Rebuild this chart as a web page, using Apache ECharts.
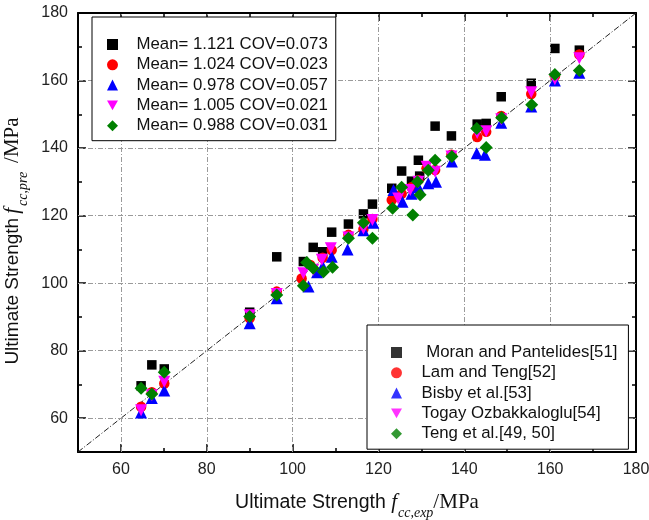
<!DOCTYPE html>
<html><head><meta charset="utf-8">
<script src="https://cdn.jsdelivr.net/npm/echarts@6/dist/echarts.min.js"></script>
<style>html,body{margin:0;padding:0;background:#fff}#c{width:649px;height:520px}</style>
</head><body><div id="c"></div>
<script>
// ---- data ----
const meanLabels = ['Mean= 1.121 COV=0.073', 'Mean= 1.024 COV=0.023', 'Mean= 0.978 COV=0.057', 'Mean= 1.005 COV=0.021', 'Mean= 0.988 COV=0.031'];
const refLabels = [' Moran and Pantelides[51]', 'Lam and Teng[52]', 'Bisby et al.[53]', 'Togay Ozbakkaloglu[54]', 'Teng et al.[49, 50]'];

const moranX = [64.7, 67.2, 70.1, 90.0, 96.3, 102.5, 104.8, 107.0, 109.1, 113.0, 116.5, 118.6, 123.1, 125.4, 127.7, 129.3, 129.6, 133.2, 137.0, 143.0, 145.1, 148.6, 155.6, 161.1, 166.8];
const moranY = [69.6, 75.8, 74.6, 91.4, 107.8, 106.4, 110.6, 109.3, 115.1, 117.5, 120.5, 123.4, 128.1, 133.2, 130.2, 136.4, 131.7, 146.5, 143.6, 147.1, 147.3, 155.2, 159.2, 169.5, 169.0];

const lamX = [64.7, 67.2, 70.1, 90.0, 96.3, 102.1, 104.1, 107.0, 109.1, 113.0, 116.5, 118.6, 123.1, 125.4, 127.7, 129.3, 131.2, 133.2, 137.0, 143.0, 145.1, 148.6, 155.6, 161.1, 166.8];
const lamY = [63.4, 67.7, 70.3, 89.6, 97.5, 101.4, 105.4, 107.5, 109.8, 114.3, 116.0, 119.0, 124.6, 126.5, 128.4, 130.5, 134.0, 133.5, 138.0, 143.3, 144.8, 149.5, 156.0, 161.3, 167.7];

const bisbyX = [64.7, 67.2, 70.1, 90.0, 96.3, 103.7, 105.7, 107.0, 109.1, 112.8, 116.5, 118.8, 123.5, 125.6, 127.7, 129.3, 131.6, 133.4, 137.1, 142.9, 144.8, 148.6, 155.6, 161.1, 166.8];
const bisbyY = [61.7, 66.0, 68.2, 88.1, 95.5, 99.0, 103.2, 105.0, 107.8, 110.0, 115.7, 117.9, 127.6, 124.1, 126.5, 128.5, 129.6, 130.0, 136.0, 138.5, 138.0, 147.5, 152.3, 160.0, 162.3];

const togayX = [64.7, 67.2, 70.1, 90.0, 96.3, 102.5, 104.8, 106.8, 108.9, 113.0, 116.5, 118.6, 124.6, 127.4, 129.3, 131.2, 133.2, 137.0, 143.0, 145.1, 148.6, 155.6, 161.1, 166.8];
const togayY = [62.4, 66.8, 70.8, 90.5, 96.8, 102.9, 104.0, 106.9, 110.3, 113.5, 116.2, 118.7, 125.1, 127.6, 130.0, 134.5, 133.0, 137.5, 144.5, 145.0, 148.5, 156.5, 160.4, 166.6];

const tengX = [64.7, 67.2, 70.1, 90.0, 96.3, 102.5, 103.3, 104.8, 107.2, 109.3, 113.0, 116.5, 118.6, 123.3, 125.4, 128.0, 129.1, 129.7, 131.6, 133.2, 137.1, 142.9, 145.1, 148.7, 155.7, 161.1, 166.8];
const tengY = [68.9, 67.2, 73.6, 90.1, 96.5, 99.2, 106.1, 104.4, 103.4, 104.7, 113.3, 117.9, 113.3, 122.2, 128.4, 120.2, 130.0, 126.2, 133.4, 136.4, 137.5, 145.8, 140.2, 149.0, 152.8, 161.8, 163.0];

const majorTicks = [60, 80, 100, 120, 140, 160, 180];
const gridValues = [60, 80, 100, 120, 140, 160];
const diagonalEnds = [50, 180];
const axisMin = 50, axisMax = 180;

// ---- styling ----
const sans = 'Liberation Sans, Arial, sans-serif';
const serif = 'Liberation Serif, Times New Roman, serif';
const downTriangle = 'path://M0,0L10,0L5,9Z';
const seriesStyles = [
  {symbol: 'rect', size: 9.5, color: '#000000'},
  {symbol: 'circle', size: 10.5, color: '#ff0000'},
  {symbol: 'triangle', size: 12, color: '#0000ff'},
  {symbol: downTriangle, size: 12, color: '#ff00ff'},
  {symbol: 'diamond', size: 13, color: '#008000'}
];
const xs = [moranX, lamX, bisbyX, togayX, tengX];
const ys = [moranY, lamY, bisbyY, togayY, tengY];

function pairs(a, b) { return a.map((v, i) => [v, b[i]]); }

const xNameRich = {
  a: {fontSize: 19.5, fontFamily: sans, color: '#111'},
  f: {fontSize: 21, fontFamily: serif, fontStyle: 'italic', color: '#111'},
  s: {fontSize: 14, fontFamily: serif, fontStyle: 'italic', color: '#111', padding: [21, 0, 0, 1]},
  b: {fontSize: 21, fontFamily: serif, color: '#111'}
};
const yNameRich = {
  a: {fontSize: 19, fontFamily: sans, color: '#111'},
  f: {fontSize: 21, fontFamily: serif, fontStyle: 'italic', color: '#111', padding: [0, 0, 0, 4]},
  s: {fontSize: 14, fontFamily: serif, fontStyle: 'italic', color: '#111', padding: [21, 0, 0, 2]},
  b: {fontSize: 21, fontFamily: serif, color: '#111', padding: [0, 0, 0, 9]}
};

function baseAxis(extra) {
  return Object.assign({
    type: 'value', min: axisMin, max: axisMax, interval: 10,
    axisLine: {show: true, onZero: false, lineStyle: {color: '#000', width: 2}},
    axisTick: {show: true, inside: true, length: 4, lineStyle: {color: '#000', width: 1.5}},
    axisLabel: {show: false},
    splitLine: {show: false}
  }, extra);
}
function majorAxis(pos, showLabels, name, gap, rot, rich, pad) {
  const o = baseAxis({
    position: pos,
    axisLine: {show: false},
    axisTick: {show: true, inside: true, length: 8, customValues: majorTicks, lineStyle: {color: '#000', width: 1.5}},
    axisLabel: showLabels ? {show: true, customValues: majorTicks, fontSize: 16, fontFamily: sans, color: '#222', margin: 10} : {show: false}
  });
  if (name) {
    o.name = name; o.nameLocation = 'middle'; o.nameGap = gap;
    o.nameTextStyle = {rich: rich, padding: pad || 0};
    if (rot) o.nameRotate = rot;
  }
  return o;
}

const series = [];
// grid lines drawn through the axes
series.push({
  type: 'scatter', data: [], z: 1, silent: true,
  markLine: {
    silent: true, symbol: ['none', 'none'], label: {show: false}, animation: false,
    lineStyle: {color: '#9a9a9a', type: [5, 2, 1, 2], width: 1},
    data: gridValues.map(v => ({xAxis: v})).concat(gridValues.map(v => ({yAxis: v})))
  }
});
// 1:1 line
series.push({
  type: 'line', data: diagonalEnds.map(v => [v, v]), symbol: 'none', z: 2, silent: true,
  lineStyle: {color: '#222', width: 1, type: [6, 2, 1, 2]}
});
seriesStyles.forEach((s, i) => {
  series.push({
    type: 'scatter', name: meanLabels[i], data: pairs(xs[i], ys[i]), z: 3 + i,
    symbol: s.symbol, symbolSize: s.size,
    itemStyle: {color: s.color, opacity: 1}
  });
});
seriesStyles.forEach((s, i) => {
  series.push({
    type: 'scatter', name: refLabels[i], data: [],
    symbol: s.symbol, symbolSize: s.size,
    itemStyle: {color: s.color}
  });
});

const legendCommon = {
  orient: 'vertical', itemWidth: 11, itemHeight: 11, itemGap: 3.3,
  borderColor: '#000', borderWidth: 1, backgroundColor: '#fff',
  selectedMode: false, z: 10
};

const option = {
  animation: false,
  backgroundColor: '#fff',
  grid: {left: 78, right: 13, top: 13, bottom: 68, containLabel: false, outerBoundsMode: 'none'},
  xAxis: [
    baseAxis({position: 'bottom'}),
    majorAxis('bottom', true, '{a|Ultimate Strength }{f|f}{s|cc,exp}{b|/MPa}', 33, 0, xNameRich),
    baseAxis({position: 'top'}),
    majorAxis('top', false)
  ],
  yAxis: [
    baseAxis({position: 'left'}),
    majorAxis('left', true, '{a|Ultimate Strength}{f|f}{s|cc,pre}{b|/MPa}', 38, 90, yNameRich, [0, 17, 0, 0]),
    baseAxis({position: 'right'}),
    majorAxis('right', false)
  ],
  legend: [
    Object.assign({}, legendCommon, {
      data: meanLabels, left: 92, top: 17, padding: [19, 8, 6.5, 15],
      textStyle: {fontSize: 16.8, fontFamily: sans, color: '#111', padding: [0, 0, 0, 13.5]}
    }),
    Object.assign({}, legendCommon, {
      data: refLabels, left: 367, top: 325, padding: [19, 11, 7, 24],
      textStyle: {fontSize: 16.8, fontFamily: sans, color: '#111', padding: [0, 0, 0, 14.5]}
    })
  ],
  series: series
};
const chart = echarts.init(document.getElementById('c'), null, {renderer: 'canvas'});
chart.setOption(option);
</script></body></html>
